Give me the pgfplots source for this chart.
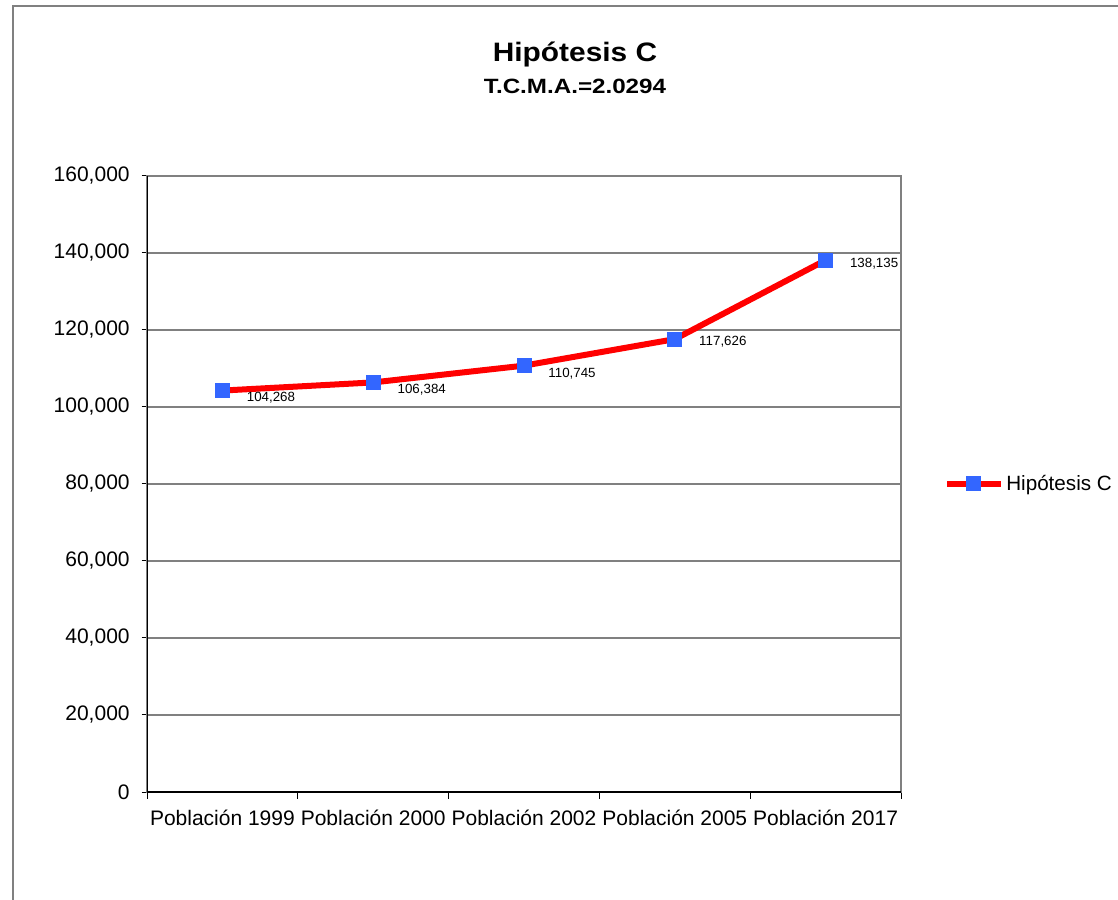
\documentclass[border=0pt]{standalone}
\usepackage{fontspec}
\setmainfont{Liberation Sans}
\usepackage{graphicx}
\usepackage{pgfplots}
\usepackage{pgfplotstable}
\pgfplotsset{compat=1.18}
\definecolor{mred}{RGB}{255,0,0}
\definecolor{mblue}{RGB}{51,102,255}
\definecolor{gridg}{RGB}{128,128,128}
\pgfplotstableread{
x y lab dy
0 104268 104,268 -5
1 106384 106,384 -5.75
2 110745 110,745 -5.75
3 117626 117,626 -2
4 138135 138,135 -2.75
}\datatab
\begin{document}
\begin{tikzpicture}[x=1pt,y=1pt]
\clip (0,0) rectangle (838.5,675);
\fill[white] (0,0) rectangle (838.5,675);
\draw[gridg, line width=1.1pt] (9.75,-10) -- (9.75,670.5) -- (860,670.5);
\node[anchor=base, font=\bfseries\fontsize{20}{23}\selectfont] at (431.25,628.5) {\scalebox{1.12}[1]{Hipótesis C}};
\node[anchor=base, font=\bfseries\fontsize{15.5}{18}\selectfont] at (431.25,604.5) {\scalebox{1.17}[1]{T.C.M.A.=2.0294}};
\begin{axis}[
  at={(110.25pt,81pt)}, anchor=south west,
  scale only axis, width=565.5pt, height=462pt,
  xmin=-0.5, xmax=4.5, ymin=0, ymax=160000,
  xtick={0,1,2,3,4},
  xticklabels={Población 1999,Población 2000,Población 2002,Población 2005,Población 2017},
  xticklabel style={yshift=-6pt},
  major x tick style={draw=none},
  minor xtick={-0.5,0.5,1.5,2.5,3.5,4.5},
  minor tick length=5pt,
  ytick={0,20000,...,160000},
  major tick length=4pt,
  tick align=outside, tick pos=left,
  tick style={black, line width=0.75pt},
  ymajorgrids, grid style={gridg, line width=0.9pt},
  axis line style={gridg, line width=1.1pt},
  scaled y ticks=false,
  yticklabel style={/pgf/number format/fixed, /pgf/number format/1000 sep={,}, xshift=-5.5pt},
  /pgf/number format/assume math mode=true,
  tick label style={font=\fontsize{15.75}{18}\selectfont},
  legend style={at={(1.057,0.5)}, anchor=west, draw=none, fill=none, inner sep=0pt, font=\fontsize{15.5}{18}\selectfont},
  legend image code/.code={\draw[mark repeat=2,mark phase=2,#1] plot coordinates {(0pt,0pt)(20pt,0pt)(40pt,0pt)};},
]
\addplot[mred, line width=4.5pt, mark=square*, mark size=5.25pt, mark options={mblue, draw=mblue, line width=0pt},
  nodes near coords, point meta=explicit symbolic,
  visualization depends on={\thisrow{dy} \as \dy},
  every node near coord/.append style={anchor=west, xshift=15pt, yshift=\dy pt, font=\fontsize{10}{12}\selectfont, black}]
  table[x=x, y=y, meta=lab] {\datatab};
\addlegendentry{Hipótesis C}
\draw[black, line width=1.1pt] (rel axis cs:0,1) -- (rel axis cs:0,0) -- (rel axis cs:1,0);
\end{axis}
\end{tikzpicture}
\end{document}
